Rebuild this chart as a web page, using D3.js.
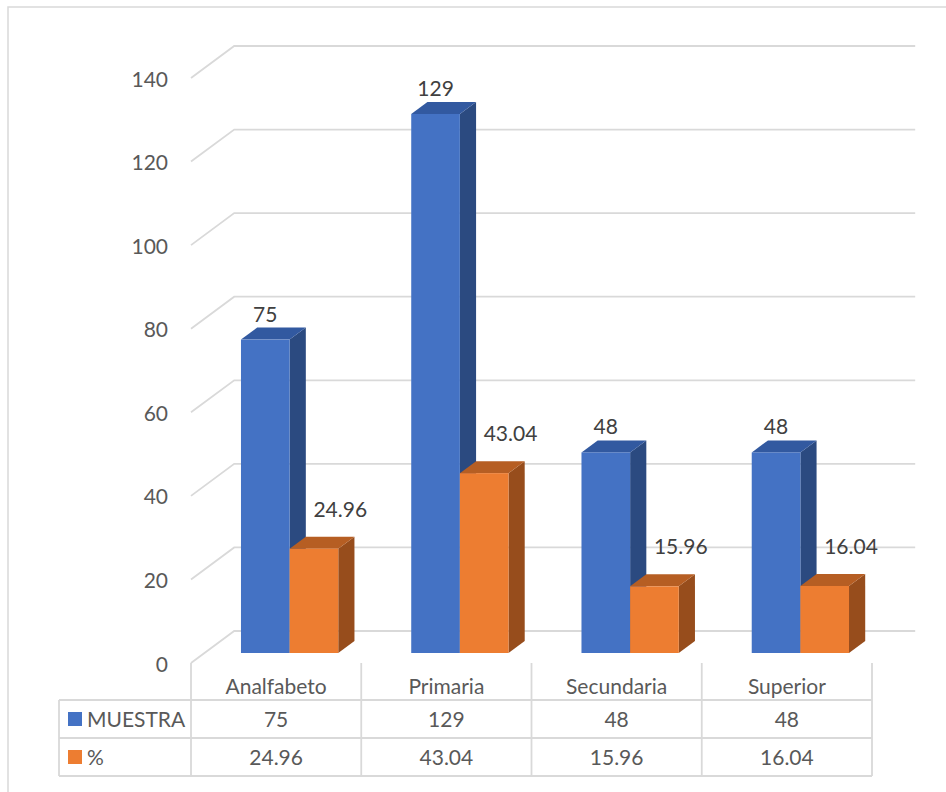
<!DOCTYPE html>
<html>
<head>
<meta charset="utf-8">
<script src="https://cdn.jsdelivr.net/npm/d3@7"></script>
<style>
  body { margin: 0; background: #fff; }
  svg text { font-family: Lato, "Open Sans", sans-serif; }
</style>
</head>
<body>
<svg id="chart"></svg>
<script>
const width = 946;
const height = 792;

// data
const categories = ["Analfabeto", "Primaria", "Secundaria", "Superior"];
const seriesNames = ["MUESTRA", "%"];
const muestra = [75, 129, 48, 48];
const percent = [24.96, 43.04, 15.96, 16.04];
const muestraLabels = ["75", "129", "48", "48"];
const percentLabels = ["24.96", "43.04", "15.96", "16.04"];

const seriesValues = [muestra, percent];
const seriesLabels = [muestraLabels, percentLabels];

// colours: front, side, top
const faces = [
  { front: "#4472C4", side: "#2B4A80", top: "#3259A0" },
  { front: "#ED7D31", side: "#974D1C", top: "#B65E23" },
];

// oblique projection: depth z in px, shifts x by z * kx and y by -z
const kx = 1.35;
const wallDepth = 32;
const barZ0 = 10;
const barZ1 = 22;

const svg = d3.select("#chart").attr("width", width).attr("height", height);

// outer border
svg
  .append("rect")
  .attr("x", 8)
  .attr("y", 7)
  .attr("width", width + 20)
  .attr("height", height + 20)
  .attr("fill", "none")
  .attr("stroke", "#d9d9d9")
  .attr("stroke-width", 1.5);

const y = d3.scaleLinear().domain([0, 140]).range([663, 78]);
const x0 = d3.scaleBand().domain(categories).range([191, 872]);
const x1 = d3
  .scaleBand()
  .domain(seriesNames)
  .range([0, x0.bandwidth()])
  .paddingOuter(0.75);

const ticks = y.ticks(7);

// gridlines: left wall diagonal + back wall
const grid = svg.append("g").attr("stroke", "#d9d9d9").attr("stroke-width", 1.8).attr("fill", "none");
grid
  .selectAll("path")
  .data(ticks)
  .enter()
  .append("path")
  .attr("d", (t) => {
    const xl = x0.range()[0];
    const xr = x0.range()[1];
    return (
      "M" + xl + "," + y(t) +
      "L" + (xl + wallDepth * kx) + "," + (y(t) - wallDepth) +
      "L" + (xr + wallDepth * kx) + "," + (y(t) - wallDepth)
    );
  });

// y axis labels
svg
  .append("g")
  .selectAll("text")
  .data(ticks)
  .enter()
  .append("text")
  .attr("x", 168)
  .attr("y", (t) => y(t) + 1)
  .attr("dy", "0.36em")
  .attr("text-anchor", "end")
  .attr("font-size", 21)
  .attr("fill", "#595959")
  .text((t) => t);

// bars
const bars = [];
categories.forEach((c, ci) => {
  seriesNames.forEach((s, si) => {
    bars.push({ cat: c, series: s, si: si, value: seriesValues[si][ci], label: seriesLabels[si][ci] });
  });
});

const barG = svg
  .append("g")
  .selectAll("g")
  .data(bars)
  .enter()
  .append("g");

function barGeom(d) {
  const xl = x0(d.cat) + x1(d.series) + barZ0 * kx;
  const xr = xl + x1.bandwidth();
  const yb = y(0) - barZ0;
  const yt = y(d.value) - barZ0;
  const dx = (barZ1 - barZ0) * kx;
  const dz = barZ1 - barZ0;
  return { xl, xr, yb, yt, dx, dz };
}

barG
  .append("path")
  .attr("fill", (d) => faces[d.si].side)
  .attr("d", (d) => {
    const g = barGeom(d);
    return (
      "M" + g.xr + "," + g.yb +
      "L" + (g.xr + g.dx) + "," + (g.yb - g.dz) +
      "L" + (g.xr + g.dx) + "," + (g.yt - g.dz) +
      "L" + g.xr + "," + g.yt + "Z"
    );
  });

barG
  .append("path")
  .attr("fill", (d) => faces[d.si].top)
  .attr("d", (d) => {
    const g = barGeom(d);
    return (
      "M" + g.xl + "," + g.yt +
      "L" + (g.xl + g.dx) + "," + (g.yt - g.dz) +
      "L" + (g.xr + g.dx) + "," + (g.yt - g.dz) +
      "L" + g.xr + "," + g.yt + "Z"
    );
  });

barG
  .append("rect")
  .attr("fill", (d) => faces[d.si].front)
  .attr("x", (d) => barGeom(d).xl)
  .attr("y", (d) => barGeom(d).yt)
  .attr("width", x1.bandwidth())
  .attr("height", (d) => barGeom(d).yb - barGeom(d).yt);

// data labels
barG
  .append("text")
  .attr("text-anchor", "middle")
  .attr("font-size", 21)
  .attr("fill", "#404040")
  .attr("x", (d) => {
    const g = barGeom(d);
    return d.si === 0 ? (g.xl + g.xr) / 2 : g.xr + 2;
  })
  .attr("y", (d) => {
    const g = barGeom(d);
    return d.si === 0 ? g.yt - g.dz - 6 : g.yt - g.dz - 20;
  })
  .text((d) => d.label);

// data table
const tableLeft = 59;
const rowLines = [700, 738, 776];
const table = svg.append("g").attr("stroke", "#d9d9d9").attr("stroke-width", 1.8);

table
  .selectAll("line.h")
  .data(rowLines)
  .enter()
  .append("line")
  .attr("x1", tableLeft)
  .attr("x2", x0.range()[1])
  .attr("y1", (d) => d)
  .attr("y2", (d) => d);

const colEdges = categories.map((c) => x0(c)).concat([x0.range()[1]]);
table
  .selectAll("line.v")
  .data(colEdges)
  .enter()
  .append("line")
  .attr("x1", (d) => d)
  .attr("x2", (d) => d)
  .attr("y1", y(0))
  .attr("y2", rowLines[2]);

table
  .append("line")
  .attr("x1", tableLeft)
  .attr("x2", tableLeft)
  .attr("y1", rowLines[0])
  .attr("y2", rowLines[2]);

// category header
svg
  .append("g")
  .selectAll("text")
  .data(categories)
  .enter()
  .append("text")
  .attr("x", (c) => x0(c) + x0.bandwidth() / 2)
  .attr("y", 686)
  .attr("dy", "0.36em")
  .attr("text-anchor", "middle")
  .attr("font-size", 21)
  .attr("fill", "#595959")
  .text((c) => c);

// rows
const rowCenters = [719, 757];
seriesNames.forEach((s, si) => {
  const row = svg.append("g");
  row
    .append("rect")
    .attr("x", 68)
    .attr("y", rowCenters[si] - 7)
    .attr("width", 14)
    .attr("height", 14)
    .attr("fill", faces[si].front);
  row
    .append("text")
    .attr("x", 87)
    .attr("y", rowCenters[si])
    .attr("dy", "0.36em")
    .attr("font-size", 21)
    .attr("fill", "#595959")
    .text(s);
  row
    .selectAll("text.val")
    .data(categories)
    .enter()
    .append("text")
    .attr("x", (c) => x0(c) + x0.bandwidth() / 2)
    .attr("y", rowCenters[si])
    .attr("dy", "0.36em")
    .attr("text-anchor", "middle")
    .attr("font-size", 21)
    .attr("fill", "#595959")
    .text((c, ci) => seriesLabels[si][ci]);
});
</script>
</body>
</html>
